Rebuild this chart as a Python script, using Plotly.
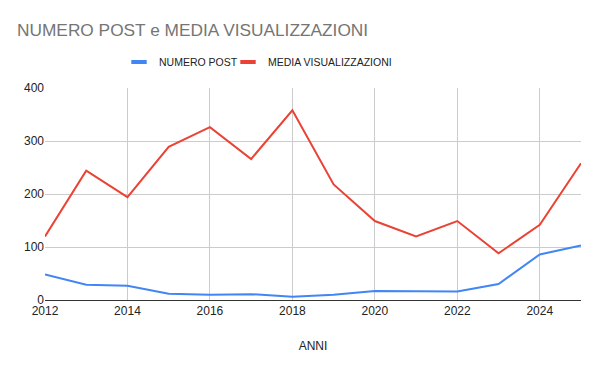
import plotly.graph_objects as go

years = list(range(2012, 2026))
numero_post = [48, 29, 27, 12, 10, 11, 6, 10, 17, 16, 16, 30, 86, 103]
media_visualizzazioni = [120, 244, 194, 289, 326, 266, 358, 218, 149, 120, 149, 88, 142, 258]
y_ticks = [0, 100, 200, 300, 400]

W, H = 600, 371
BLUE, RED = "#4285F4", "#EA4335"

fig = go.Figure()
fig.add_trace(go.Scatter(x=years, y=numero_post, mode="lines", name="NUMERO POST",
                         line=dict(color=BLUE, width=2), showlegend=False))
fig.add_trace(go.Scatter(x=years, y=media_visualizzazioni, mode="lines", name="MEDIA VISUALIZZAZIONI",
                         line=dict(color=RED, width=2), showlegend=False))
# legend entries with short thick swatches (no data drawn)
fig.add_trace(go.Scatter(x=[None], y=[None], mode="markers", name="NUMERO POST",
                         marker=dict(symbol="line-ew-open", size=11, color=BLUE,
                                     line=dict(color=BLUE, width=4)),
                         legend="legend", hoverinfo="skip"))
fig.add_trace(go.Scatter(x=[None], y=[None], mode="markers", name="MEDIA VISUALIZZAZIONI",
                         marker=dict(symbol="line-ew-open", size=11, color=RED,
                                     line=dict(color=RED, width=4)),
                         legend="legend2", hoverinfo="skip"))

leg_common = dict(orientation="h", yref="container", xref="container", y=1 - 62 / H,
                  yanchor="middle", xanchor="left", font=dict(size=10.5, color="#222222"),
                  itemwidth=30, bgcolor="rgba(0,0,0,0)")

fig.update_layout(
    width=W, height=H,
    margin=dict(l=45, r=19, t=88, b=71, autoexpand=False),
    paper_bgcolor="white", plot_bgcolor="white",
    font=dict(family="Liberation Sans, Arial, sans-serif", color="#222222", size=12),
    title=dict(text="NUMERO POST e MEDIA VISUALIZZAZIONI", x=17 / W, xanchor="left",
               y=1 - 30 / H, yanchor="middle",
               font=dict(size=17.3, color="#757575")),
    legend=dict(x=119 / W, **leg_common),
    legend2=dict(x=228 / W, **leg_common),
    showlegend=True,
)
fig.update_xaxes(range=[2012, 2025], tick0=2012, dtick=2, showgrid=True, gridcolor="#cccccc",
                 zeroline=False, showline=True, linecolor="#333333", linewidth=1,
                 ticks="", title=dict(text="ANNI", font=dict(size=12, color="#222222"), standoff=24),
                 tickfont=dict(size=12, color="#222222"))
fig.update_yaxes(range=[0, 400], tickvals=y_ticks, showgrid=True, gridcolor="#cccccc",
                 zeroline=False, showline=False, ticks="",
                 tickfont=dict(size=12, color="#222222"))

fig.write_html("out.html", config={"displayModeBar": False},
               post_script="document.body.style.margin='0';document.body.style.padding='0';")
